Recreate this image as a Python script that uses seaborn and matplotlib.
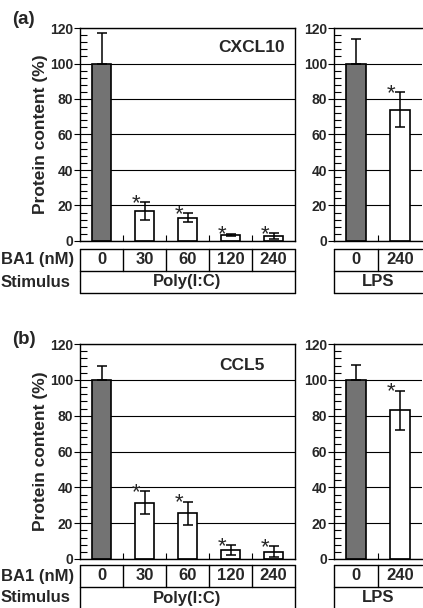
import matplotlib
matplotlib.use("Agg")
import matplotlib.pyplot as plt
from matplotlib.ticker import MultipleLocator
import seaborn as sns
import pandas as pd
import numpy as np

sns.set_theme(style="white")
plt.rcParams['font.family'] = ['Liberation Sans', 'DejaVu Sans']
plt.rcParams['font.weight'] = 'bold'
plt.rcParams['axes.labelweight'] = 'bold'

W, H = 423, 608

# ---------------- data ----------------
doses_polyic = ["0", "30", "60", "120", "240"]
doses_lps = ["0", "240"]
stimulus_polyic = "Poly(I:C)"
stimulus_lps = "LPS"

cxcl10_polyic = [100, 17, 13, 3.5, 2.8]
cxcl10_polyic_err = [17, 5, 2.5, 0.6, 1.5]
cxcl10_lps = [100, 74]
cxcl10_lps_err = [14, 10]

ccl5_polyic = [100, 31.5, 25.5, 5, 4]
ccl5_polyic_err = [7.5, 6.5, 6.5, 2.8, 3]
ccl5_lps = [100, 83]
ccl5_lps_err = [8.5, 11]

significant_polyic = [False, True, True, True, True]
significant_lps = [False, True]

yticks = [0, 20, 40, 60, 80, 100, 120]

GRAY = "#737373"


def px_rect(l, t, r, b):
    return [l / W, 1 - b / H, (r - l) / W, (b - t) / H]


def bar_panel(ax, cats, vals, errs, sig, right_spine=True):
    n = len(cats)
    df = pd.DataFrame({"dose": cats, "value": vals})
    pal = {c: (GRAY if i == 0 else "white") for i, c in enumerate(cats)}
    sns.barplot(data=df, x="dose", y="value", hue="dose", palette=pal,
                legend=False, width=0.44, edgecolor="black", linewidth=1.2,
                order=cats, hue_order=cats, errorbar=None, ax=ax, zorder=2,
                saturation=1)
    x = np.arange(n)
    lower = [0 if i == 0 else e for i, e in enumerate(errs)]
    ax.errorbar(x, vals, yerr=[lower, errs], fmt="none", ecolor="black",
                elinewidth=1.1, capsize=3.5, capthick=1.1, zorder=3)
    for i, s in enumerate(sig):
        if s:
            ax.annotate("*", (i - 0.2, vals[i] + errs[i]), xytext=(0, -5),
                        textcoords="offset points", ha="center",
                        va="baseline", fontsize=16, fontweight="normal",
                        zorder=4)
    ax.set_xlim(-0.5, n - 0.5)
    ax.set_ylim(0, 120)
    ax.set_yticks(yticks)
    ax.yaxis.set_minor_locator(MultipleLocator(4))
    ax.set_axisbelow(True)
    ax.yaxis.grid(True, which="major", color="black", lw=0.8)
    ax.set_xticks(np.arange(n - 1) + 0.5)
    ax.set_xticklabels([])
    ax.tick_params(axis="x", which="major", direction="in", length=4,
                   width=0.8, bottom=True, labelbottom=False, color="black")
    ax.tick_params(axis="y", which="major", direction="out", length=4,
                   width=0.8, left=True, labelsize=10, pad=1, color="black")
    ax.tick_params(axis="y", which="minor", direction="in", length=5,
                   width=0.8, left=True, color="black")
    ax.set_xlabel("")
    ax.set_ylabel("")
    for sp in ax.spines.values():
        sp.set_color("black")
        sp.set_linewidth(1.0)
    if not right_spine:
        ax.spines["right"].set_visible(False)


def table(ax, cats, stim, right_border=True):
    n = len(cats)
    ax.set_xlim(-0.5, n - 0.5)
    ax.set_ylim(0, 2)
    ax.axis("off")
    kw = dict(color="black", lw=1.0, clip_on=False)
    for yy in (0, 1, 2):
        ax.plot([-0.5, n - 0.5], [yy, yy], **kw)
    ax.plot([-0.5, -0.5], [0, 2], **kw)
    if right_border:
        ax.plot([n - 0.5, n - 0.5], [0, 2], **kw)
    for i in range(n - 1):
        ax.plot([i + 0.5, i + 0.5], [1, 2], **kw)
    for i, c in enumerate(cats):
        ax.text(i, 1.5, c, ha="center", va="center", fontsize=12)
    ax.text((n - 1) / 2, 0.5, stim, ha="center", va="center", fontsize=12)


fig = plt.figure(figsize=(W / 100, H / 100), dpi=100)

panels = [
    dict(tag="(a)", name="CXCL10", top=28, bottom=241, ttop=249, tbot=293,
         p=cxcl10_polyic, pe=cxcl10_polyic_err,
         l=cxcl10_lps, le=cxcl10_lps_err, tagy=19, namey=48, namex=252),
    dict(tag="(b)", name="CCL5", top=344, bottom=559, ttop=565, tbot=609,
         p=ccl5_polyic, pe=ccl5_polyic_err,
         l=ccl5_lps, le=ccl5_lps_err, tagy=339, namey=366, namex=242),
]

for P in panels:
    axL = fig.add_axes(px_rect(80, P["top"], 295, P["bottom"]))
    bar_panel(axL, doses_polyic, P["p"], P["pe"], significant_polyic)
    axL.set_ylabel("Protein content (%)", fontsize=12.5, fontweight="bold",
                   labelpad=1)
    axR = fig.add_axes(px_rect(334, P["top"], 422, P["bottom"]))
    bar_panel(axR, doses_lps, P["l"], P["le"], significant_lps,
              right_spine=False)
    tL = fig.add_axes(px_rect(80, P["ttop"], 295, P["tbot"]))
    table(tL, doses_polyic, stimulus_polyic)
    tR = fig.add_axes(px_rect(334, P["ttop"], 422, P["tbot"]))
    table(tR, doses_lps, stimulus_lps, right_border=False)
    rowh = (P["tbot"] - P["ttop"]) / 2
    fig.text(1 / W, 1 - (P["ttop"] + rowh / 2) / H, "BA1 (nM)",
             ha="left", va="center", fontsize=12)
    fig.text(1 / W, 1 - (P["ttop"] + rowh * 1.5) / H, "Stimulus",
             ha="left", va="center", fontsize=12)
    fig.text(12 / W, 1 - P["tagy"] / H, P["tag"], ha="left", va="center",
             fontsize=13.5)
    fig.text(P["namex"] / W, 1 - P["namey"] / H, P["name"], ha="center",
             va="center", fontsize=12.5)

fig.savefig("out.png", dpi=100)
